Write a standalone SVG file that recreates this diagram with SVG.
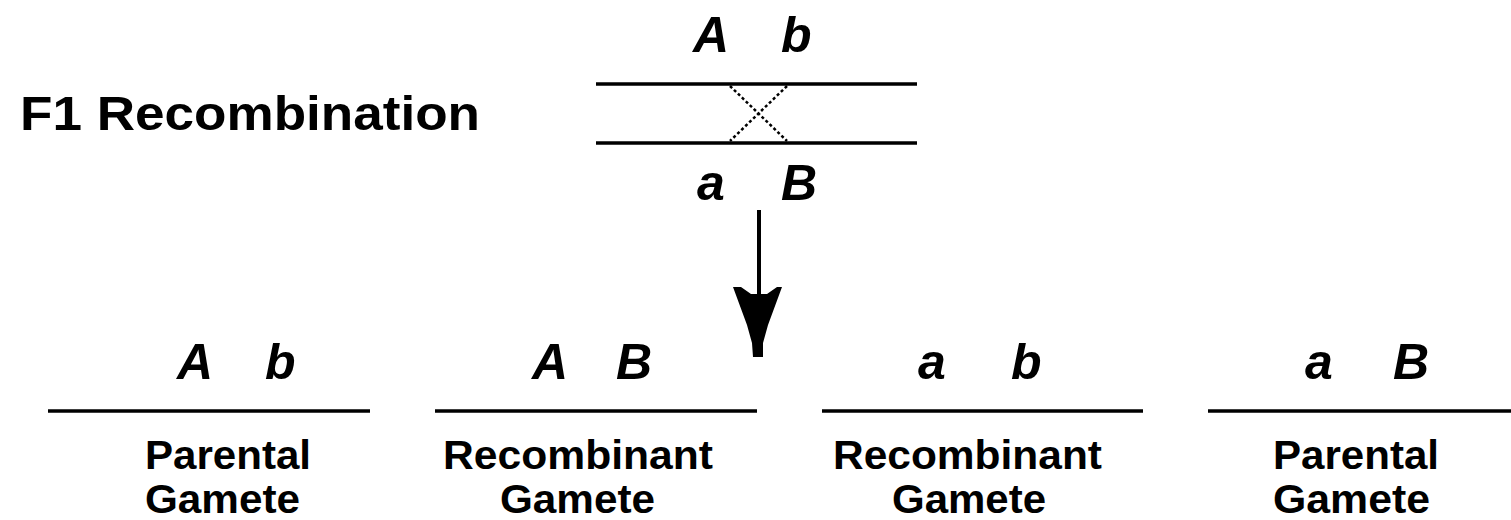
<svg xmlns="http://www.w3.org/2000/svg" width="1511" height="520" viewBox="0 0 1511 520">
<style>
.title{font-family:"Liberation Sans",Arial,sans-serif;font-weight:bold;font-size:48px;fill:#000}
.allele{font-family:"Liberation Sans",Arial,sans-serif;font-weight:bold;font-style:italic;font-size:50px;fill:#000}
.lbl{font-family:"Liberation Sans",Arial,sans-serif;font-weight:bold;font-size:40px;fill:#000}
.chr{stroke:#000;stroke-width:3.5;fill:none}
.xo{stroke:#000;stroke-width:2.5;stroke-dasharray:3 2.5;fill:none}
</style>
<rect width="1511" height="520" fill="#fff"/>
<g id="title">
<text class="title" x="20" y="130" textLength="460" lengthAdjust="spacingAndGlyphs">F1 Recombination</text>
</g>
<g id="f1">
<text class="allele" x="693" y="52">A</text>
<text class="allele" x="781" y="52">b</text>
<line class="chr" x1="596" y1="84" x2="917" y2="84"/>
<line class="chr" x1="596" y1="143" x2="917" y2="143"/>
<line class="xo" x1="730" y1="86" x2="787" y2="141"/>
<line class="xo" x1="787" y1="86" x2="730" y2="141"/>
<text class="allele" x="697" y="200">a</text>
<text class="allele" x="781" y="200">B</text>
</g>
<g id="connectors">
<line x1="759" y1="210" x2="759" y2="296" stroke="#000" stroke-width="4"/>
<polygon points="733,287 741,287 751,294 767,294 777,287 782,287 768,325 763,343 763,357 753,357 752,343 747,325" fill="#000"/>
</g>
<g id="g1">
<text class="allele" x="177" y="379">A</text>
<text class="allele" x="265" y="379">b</text>
<line class="chr" x1="48" y1="411" x2="370" y2="411"/>
<text class="lbl" x="145" y="469" textLength="166" lengthAdjust="spacingAndGlyphs">Parental</text>
<text class="lbl" x="145" y="513" textLength="155" lengthAdjust="spacingAndGlyphs">Gamete</text>
</g>
<g id="g2">
<text class="allele" x="532" y="379">A</text>
<text class="allele" x="616" y="379">B</text>
<line class="chr" x1="435" y1="411" x2="757" y2="411"/>
<text class="lbl" x="443" y="469" textLength="270" lengthAdjust="spacingAndGlyphs">Recombinant</text>
<text class="lbl" x="500" y="513" textLength="155" lengthAdjust="spacingAndGlyphs">Gamete</text>
</g>
<g id="g3">
<text class="allele" x="918" y="379">a</text>
<text class="allele" x="1011" y="379">b</text>
<line class="chr" x1="822" y1="411" x2="1143" y2="411"/>
<text class="lbl" x="833" y="469" textLength="269" lengthAdjust="spacingAndGlyphs">Recombinant</text>
<text class="lbl" x="892" y="513" textLength="154" lengthAdjust="spacingAndGlyphs">Gamete</text>
</g>
<g id="g4">
<text class="allele" x="1305" y="379">a</text>
<text class="allele" x="1393" y="379">B</text>
<line class="chr" x1="1208" y1="411" x2="1511" y2="411"/>
<text class="lbl" x="1273" y="469" textLength="166" lengthAdjust="spacingAndGlyphs">Parental</text>
<text class="lbl" x="1273" y="513" textLength="157" lengthAdjust="spacingAndGlyphs">Gamete</text>
</g>
</svg>
